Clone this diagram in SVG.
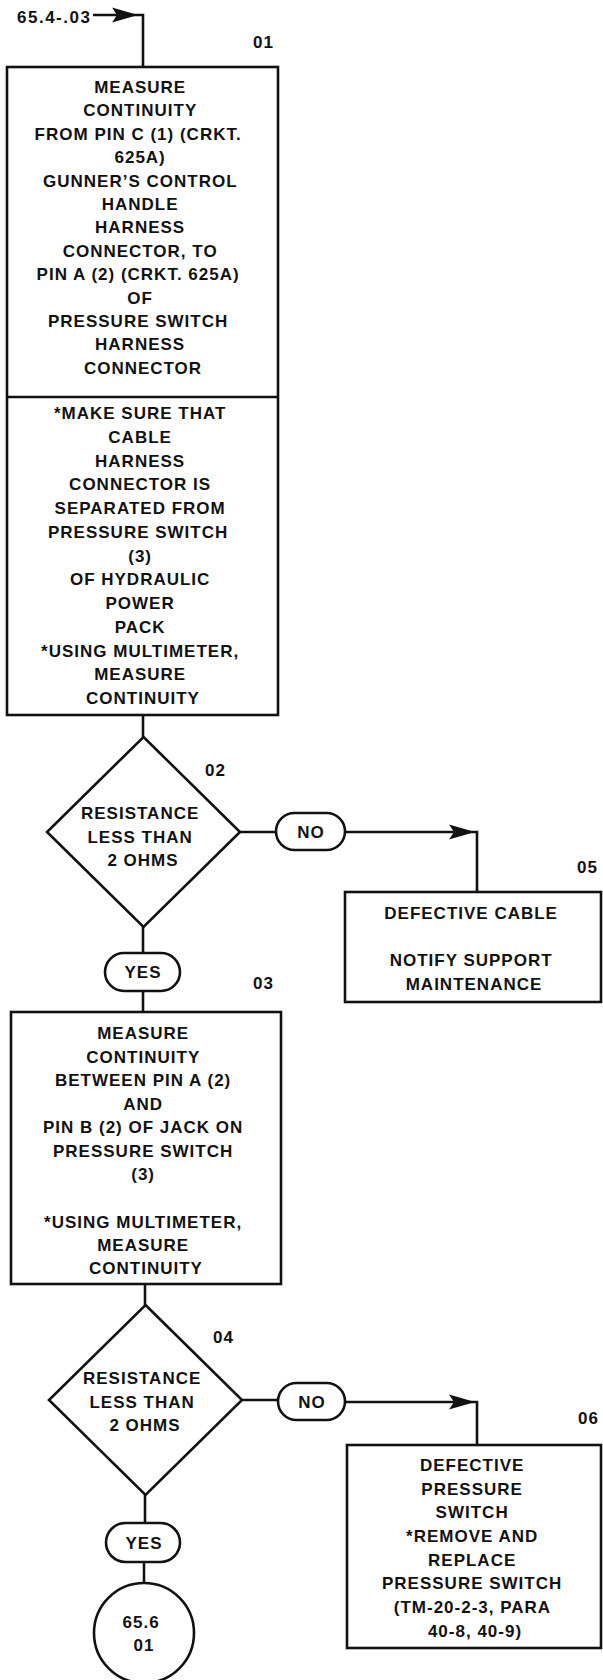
<svg xmlns="http://www.w3.org/2000/svg" width="603" height="1680" viewBox="0 0 603 1680">
<style>
text{font-family:"Liberation Sans",Arial,Helvetica,sans-serif;font-weight:bold;font-size:17px;letter-spacing:1px;fill:#111}
.c{text-anchor:middle}
.shape{fill:#fff;stroke:#111;stroke-width:2.6}
.ln{fill:none;stroke:#111;stroke-width:2.6}
</style>
<defs>
<path id="ah" d="M0,0 L-26,-7.5 L-21,0 L-26,7.5 Z" fill="#111"/>
</defs>
<rect width="603" height="1680" fill="#fff"/>

<g id="connectors">
<path class="ln" d="M93,15 H143 V67"/>
<use href="#ah" x="138" y="15"/>
<path class="ln" d="M143,715 V737"/>
<path class="ln" d="M240,832 H276"/>
<path class="ln" d="M345,832 H477 V892"/>
<use href="#ah" x="475" y="832"/>
<path class="ln" d="M143,927 V952"/>
<path class="ln" d="M143,992 V1012"/>
<path class="ln" d="M145,1284 V1305"/>
<path class="ln" d="M242,1400 H278"/>
<path class="ln" d="M345,1402 H477 V1445"/>
<use href="#ah" x="475" y="1402"/>
<path class="ln" d="M145,1495 V1523"/>
<path class="ln" d="M144,1562 V1583"/>
</g>

<g id="entry">
<text x="17" y="23" style="letter-spacing:1.5px">65.4-.03</text>
</g>

<g id="n01">
<rect class="shape" x="7" y="67" width="271" height="648"/>
<line class="ln" x1="7" y1="397" x2="278" y2="397"/>
<text x="253" y="48">01</text>
<text class="c">
<tspan x="143" y="93">MEASURE</tspan>
<tspan x="143" y="116.4">CONTINUITY</tspan>
<tspan x="141" y="139.8">FROM PIN C (1) (CRKT.</tspan>
<tspan x="143" y="163.2">625A)</tspan>
<tspan x="143" y="186.6">GUNNER’S CONTROL</tspan>
<tspan x="143" y="210">HANDLE</tspan>
<tspan x="143" y="233.4">HARNESS</tspan>
<tspan x="143" y="256.8">CONNECTOR, TO</tspan>
<tspan x="141" y="280.2">PIN A (2) (CRKT. 625A)</tspan>
<tspan x="143" y="303.6">OF</tspan>
<tspan x="141" y="327">PRESSURE SWITCH</tspan>
<tspan x="143" y="350.4">HARNESS</tspan>
<tspan x="143" y="373.8">CONNECTOR</tspan>
</text>
<text class="c">
<tspan x="143" y="419">*MAKE SURE THAT</tspan>
<tspan x="143" y="442.75">CABLE</tspan>
<tspan x="143" y="466.5">HARNESS</tspan>
<tspan x="143" y="490.25">CONNECTOR IS</tspan>
<tspan x="143" y="514">SEPARATED FROM</tspan>
<tspan x="141" y="537.75">PRESSURE SWITCH</tspan>
<tspan x="143" y="561.5">(3)</tspan>
<tspan x="143" y="585.25">OF HYDRAULIC</tspan>
<tspan x="143" y="609">POWER</tspan>
<tspan x="143" y="632.75">PACK</tspan>
<tspan x="143" y="656.5">*USING MULTIMETER,</tspan>
<tspan x="143" y="680.25">MEASURE</tspan>
<tspan x="143" y="704">CONTINUITY</tspan>
</text>
</g>

<g id="n02">
<polygon class="shape" points="143.5,737 240,832 143.5,927 47,832"/>
<text x="205" y="776">02</text>
<text class="c">
<tspan x="143" y="819">RESISTANCE</tspan>
<tspan x="143" y="843">LESS THAN</tspan>
<tspan x="143" y="866">2 OHMS</tspan>
</text>
</g>

<g id="no02">
<rect class="shape" x="276" y="813" width="69" height="37" rx="18.5"/>
<text class="c" x="311" y="838">NO</text>
</g>

<g id="yes02">
<rect class="shape" x="105" y="953" width="75" height="38" rx="19"/>
<text class="c" x="143" y="978">YES</text>
</g>

<g id="n05">
<rect class="shape" x="345" y="892" width="256" height="110"/>
<text x="577" y="873">05</text>
<text class="c">
<tspan x="474" y="919">DEFECTIVE CABLE</tspan>
<tspan x="474" y="966">NOTIFY SUPPORT</tspan>
<tspan x="474" y="990">MAINTENANCE</tspan>
</text>
</g>

<g id="n03">
<rect class="shape" x="11" y="1012" width="270" height="272"/>
<text x="253" y="989">03</text>
<text class="c">
<tspan x="146" y="1039">MEASURE</tspan>
<tspan x="146" y="1062.5">CONTINUITY</tspan>
<tspan x="146" y="1086">BETWEEN PIN A (2)</tspan>
<tspan x="146" y="1109.5">AND</tspan>
<tspan x="146" y="1133">PIN B (2) OF JACK ON</tspan>
<tspan x="146" y="1156.5">PRESSURE SWITCH</tspan>
<tspan x="146" y="1180">(3)</tspan>
<tspan x="146" y="1228">*USING MULTIMETER,</tspan>
<tspan x="146" y="1251">MEASURE</tspan>
<tspan x="146" y="1274">CONTINUITY</tspan>
</text>
</g>

<g id="n04">
<polygon class="shape" points="145.5,1305 242,1400 145.5,1495 49,1400"/>
<text x="213" y="1343">04</text>
<text class="c">
<tspan x="145" y="1384">RESISTANCE</tspan>
<tspan x="145" y="1408">LESS THAN</tspan>
<tspan x="145" y="1431">2 OHMS</tspan>
</text>
</g>

<g id="no04">
<rect class="shape" x="278" y="1383" width="67" height="37" rx="18.5"/>
<text class="c" x="312" y="1408">NO</text>
</g>

<g id="yes04">
<rect class="shape" x="106" y="1523" width="74" height="39" rx="19.5"/>
<text class="c" x="144" y="1549">YES</text>
</g>

<g id="n06">
<rect class="shape" x="347" y="1445" width="254" height="203"/>
<text x="578" y="1424">06</text>
<text class="c">
<tspan x="475" y="1471">DEFECTIVE</tspan>
<tspan x="475" y="1494.5">PRESSURE</tspan>
<tspan x="475" y="1518">SWITCH</tspan>
<tspan x="475" y="1542">*REMOVE AND</tspan>
<tspan x="475" y="1565.5">REPLACE</tspan>
<tspan x="475" y="1589">PRESSURE SWITCH</tspan>
<tspan x="475" y="1613">(TM-20-2-3, PARA</tspan>
<tspan x="475" y="1636.5">40-8, 40-9)</tspan>
</text>
</g>

<g id="n07">
<circle class="shape" cx="144" cy="1633" r="50"/>
<text class="c">
<tspan x="144" y="1628">65.6</tspan>
<tspan x="144" y="1651">01</tspan>
</text>
</g>
</svg>
